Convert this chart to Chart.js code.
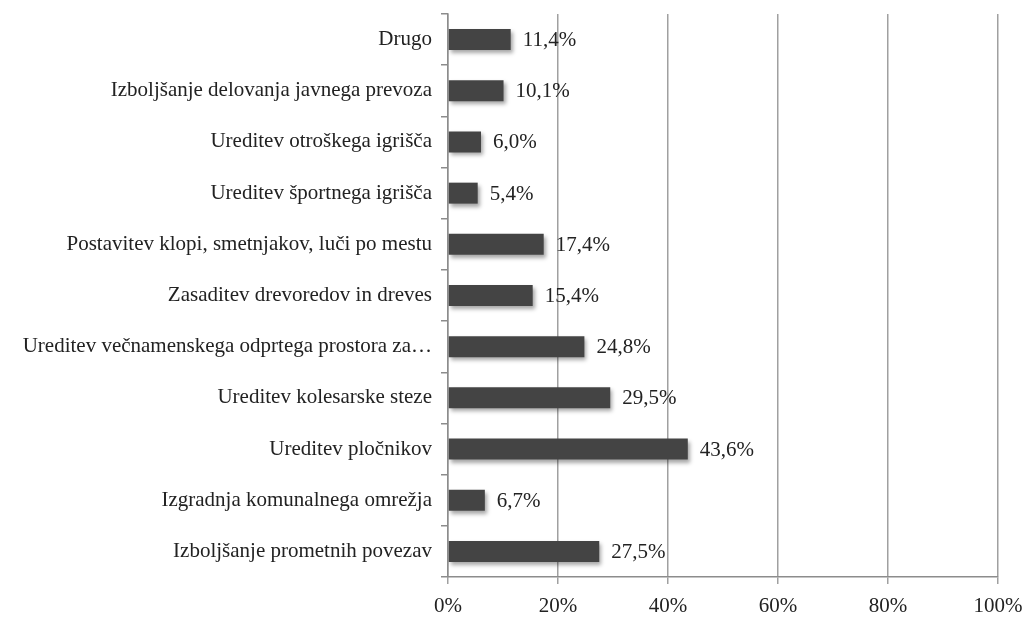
<!DOCTYPE html>
<html>
<head>
<meta charset="utf-8">
<script src="https://cdn.jsdelivr.net/npm/chart.js@4/dist/chart.umd.min.js"></script>
<style>
  html, body { margin: 0; padding: 0; background: #fff; }
  #wrap { width: 1027px; height: 617px; position: relative; }
</style>
</head>
<body>
<div id="wrap"><canvas id="chart"></canvas></div>
<script>
// Categories top to bottom, shares in percent
const categories = [
    'Drugo',
    'Izboljšanje delovanja javnega prevoza',
    'Ureditev otroškega igrišča',
    'Ureditev športnega igrišča',
    'Postavitev klopi, smetnjakov, luči po mestu',
    'Zasaditev drevoredov in dreves',
    'Ureditev večnamenskega odprtega prostora za…',
    'Ureditev kolesarske steze',
    'Ureditev pločnikov',
    'Izgradnja komunalnega omrežja',
    'Izboljšanje prometnih povezav'
];
const shares = [11.4, 10.1, 6.0, 5.4, 17.4, 15.4, 24.8, 29.5, 43.6, 6.7, 27.5];
const xTicks = [0, 20, 40, 60, 80, 100];

const FONT = "'Liberation Serif', 'Times New Roman', serif";

// value labels next to each bar, with comma decimals
const valueLabels = {
    id: 'valueLabels',
    afterDatasetsDraw(chart) {
        const ctx = chart.ctx;
        const meta = chart.getDatasetMeta(0);
        ctx.save();
        ctx.font = '21px ' + FONT;
        ctx.fillStyle = '#222';
        ctx.textBaseline = 'middle';
        ctx.textAlign = 'left';
        meta.data.forEach((bar, i) => {
            const txt = shares[i].toFixed(1).replace('.', ',') + '%';
            ctx.fillText(txt, bar.x + 12, bar.y + 1);
        });
        ctx.restore();
    }
};

// soft drop shadow under bars
const barShadow = {
    id: 'barShadow',
    beforeDatasetDraw(chart) {
        const ctx = chart.ctx;
        ctx.save();
        ctx.shadowColor = 'rgba(0,0,0,0.35)';
        ctx.shadowBlur = 4;
        ctx.shadowOffsetX = 2;
        ctx.shadowOffsetY = 3;
    },
    afterDatasetDraw(chart) {
        chart.ctx.restore();
    }
};

const ctx = document.getElementById('chart').getContext('2d');
new Chart(ctx, {
    type: 'bar',
    data: {
        labels: categories,
        datasets: [{
            data: shares,
            backgroundColor: '#444444',
            borderWidth: 0,
            barPercentage: 0.41,
            categoryPercentage: 1.0
        }]
    },
    options: {
        indexAxis: 'y',
        responsive: true,
        maintainAspectRatio: false,
        animation: false,
        layout: {
            padding: { top: 14, right: 29, bottom: 0, left: 0 }
        },
        plugins: {
            legend: { display: false },
            tooltip: { enabled: false }
        },
        scales: {
            x: {
                min: 0,
                max: 100,
                afterBuildTicks: function(scale) {
                    scale.ticks = xTicks.map(v => ({ value: v }));
                },
                afterFit: function(scale) {
                    scale.height = 40;
                    scale.paddingLeft = 0;
                    scale.paddingRight = 0;
                },
                ticks: {
                    callback: v => v + '%',
                    color: '#222',
                    font: { family: FONT, size: 21, lineHeight: 1 },
                    padding: 12
                },
                grid: {
                    color: '#a0a0a0',
                    lineWidth: 1.5,
                    tickLength: 7
                },
                border: { color: '#8c8c8c', width: 1.5 }
            },
            y: {
                afterFit: function(scale) {
                    scale.width = 448;
                    scale.paddingTop = 0;
                    scale.paddingBottom = 0;
                },
                ticks: {
                    color: '#222',
                    font: { family: FONT, size: 21 },
                    padding: 9
                },
                grid: {
                    offset: true,
                    drawOnChartArea: false,
                    color: '#8c8c8c',
                    lineWidth: 1.5,
                    tickLength: 7
                },
                border: { color: '#8c8c8c', width: 1.5 }
            }
        }
    },
    plugins: [barShadow, valueLabels]
});
</script>
</body>
</html>
